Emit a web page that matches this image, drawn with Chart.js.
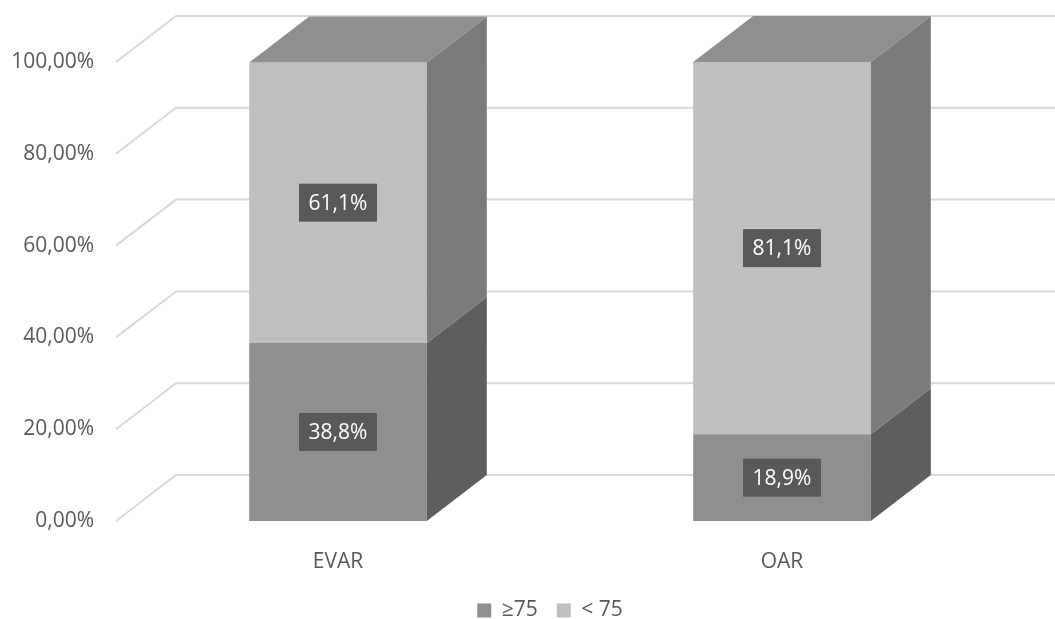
<!DOCTYPE html>
<html>
<head>
<meta charset="utf-8">
<script src="https://cdn.jsdelivr.net/npm/chart.js@4"></script>
<style>
  html, body { margin: 0; padding: 0; background: #fff; }
  #wrap { width: 1055px; height: 619px; }
</style>
</head>
<body>
<div id="wrap"><canvas id="chart"></canvas></div>
<script>
const categories = ["EVAR", "OAR"];
const ge75 = [38.8, 18.9];
const lt75 = [61.1, 81.1];
const seriesNames = ["≥75", "< 75"];

// depth of the fake 3d (px)
const DX = 60;
const DY = -46;
const FONT = "'Open Sans', sans-serif";

const frontColors = ["#8f8f8f", "#bfbfbf"];
const sideColors = ["#5e5e5e", "#7b7b7b"];
const topColor = "#8f8f8f";

const fmtPct = (v) => v.toFixed(1).replace(".", ",") + "%";

// legend sits lower and a bit right of where chart.js puts it
const legendTweak = {
  id: "legendTweak",
  beforeLayout(chart) {
    const lg = chart.legend;
    if (!lg || lg._tweaked) return;
    const fit = lg.fit;
    lg.fit = function () {
      fit.call(this);
      this.height -= 12;
    };
    lg._tweaked = true;
  },
  afterLayout(chart) {
    const lg = chart.legend;
    if (!lg) return;
    lg.left += 48;
    lg.right += 48;
  }
};

const box3d = {
  id: "box3d",
  beforeDatasetsDraw(chart) {
    const ctx = chart.ctx;
    const y = chart.scales.y;
    const area = chart.chartArea;
    ctx.save();
    ctx.strokeStyle = "#d9d9d9";
    ctx.lineWidth = 2;
    y.ticks.forEach((t) => {
      const py = y.getPixelForValue(t.value);
      ctx.beginPath();
      ctx.moveTo(area.left, py);
      ctx.lineTo(area.left + DX, py + DY);
      ctx.lineTo(chart.width, py + DY);
      ctx.stroke();
    });
    ctx.restore();
  },
  afterDatasetsDraw(chart) {
    const ctx = chart.ctx;
    const n = chart.data.datasets.length;
    ctx.save();
    for (let d = 0; d < n; d++) {
      const meta = chart.getDatasetMeta(d);
      meta.data.forEach((bar) => {
        const l = bar.x - bar.width / 2;
        const r = bar.x + bar.width / 2;
        const t = bar.y;
        const b = bar.base;
        ctx.fillStyle = sideColors[d];
        ctx.beginPath();
        ctx.moveTo(r, b);
        ctx.lineTo(r + DX, b + DY);
        ctx.lineTo(r + DX, t + DY);
        ctx.lineTo(r, t);
        ctx.closePath();
        ctx.fill();
        if (d === n - 1) {
          ctx.fillStyle = topColor;
          ctx.beginPath();
          ctx.moveTo(l, t);
          ctx.lineTo(l + DX, t + DY);
          ctx.lineTo(r + DX, t + DY);
          ctx.lineTo(r, t);
          ctx.closePath();
          ctx.fill();
        }
      });
    }
    // value labels
    ctx.font = "21px " + FONT;
    ctx.textAlign = "center";
    ctx.textBaseline = "middle";
    for (let d = 0; d < n; d++) {
      const meta = chart.getDatasetMeta(d);
      const vals = chart.data.datasets[d].data;
      meta.data.forEach((bar, i) => {
        const cy = (bar.y + bar.base) / 2;
        ctx.fillStyle = "#595959";
        ctx.fillRect(bar.x - 39, cy - 19, 78, 38);
        ctx.fillStyle = "#ffffff";
        ctx.fillText(fmtPct(vals[i]), bar.x, cy + 1);
      });
    }
    ctx.restore();
  }
};

new Chart(document.getElementById("chart"), {
  type: "bar",
  data: {
    labels: categories,
    datasets: [
      { label: seriesNames[0], data: ge75, backgroundColor: frontColors[0] },
      { label: seriesNames[1], data: lt75, backgroundColor: frontColors[1] }
    ]
  },
  options: {
    responsive: true,
    maintainAspectRatio: false,
    animation: false,
    layout: { padding: { top: 62, right: 51, left: 0, bottom: 0 } },
    datasets: { bar: { categoryPercentage: 0.4, barPercentage: 1 } },
    scales: {
      x: {
        stacked: true,
        grid: { display: false },
        border: { display: false },
        afterFit(scale) { scale.height = 60; },
        ticks: { color: "#595959", font: { family: FONT, size: 21 }, padding: 20 }
      },
      y: {
        stacked: true,
        min: 0,
        max: 100,
        grid: { display: false, drawTicks: false },
        border: { display: false },
        afterFit(scale) { scale.width = 116; },
        ticks: {
          stepSize: 20,
          padding: 22,
          color: "#595959",
          font: { family: FONT, size: 21 },
          callback: (v) => v.toFixed(2).replace(".", ",") + "%"
        }
      }
    },
    plugins: {
      tooltip: { enabled: false },
      legend: {
        position: "bottom",
        labels: {
          color: "#595959",
          font: { family: FONT, size: 21 },
          boxWidth: 14,
          boxHeight: 14,
          padding: 19
        }
      }
    }
  },
  plugins: [legendTweak, box3d]
});
</script>
</body>
</html>
